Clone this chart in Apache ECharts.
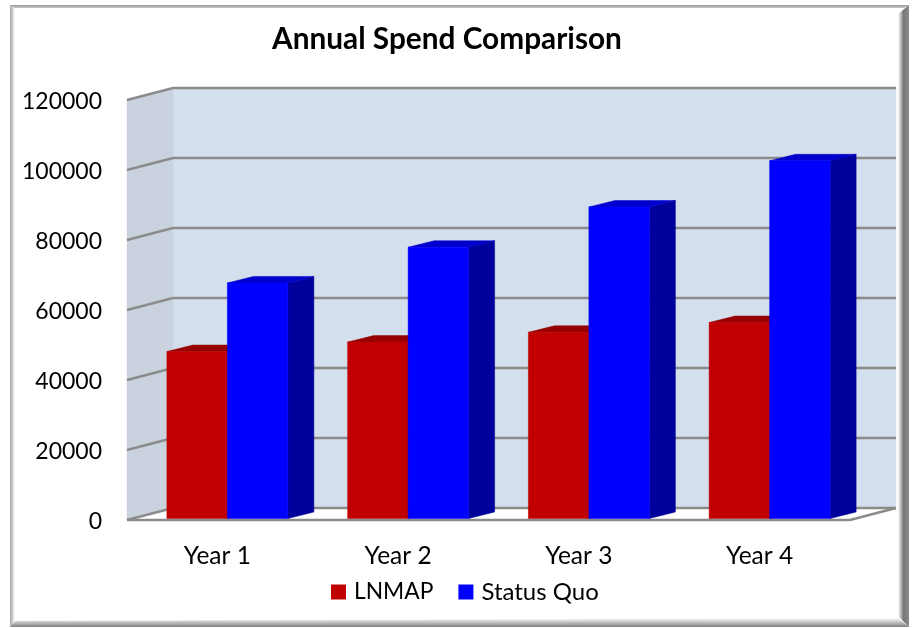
<!DOCTYPE html>
<html><head><meta charset="utf-8">
<style>html,body{margin:0;padding:0;background:#fff}#c{width:912px;height:628px}</style>
<script src="https://cdn.jsdelivr.net/npm/echarts@6/dist/echarts.min.js"></script>
</head><body><div id="c"></div>
<script>
const categories = ['Year 1', 'Year 2', 'Year 3', 'Year 4'];
const lnmap = [47700, 50400, 53200, 56000];
const statusQuo = [67300, 77500, 89000, 102200];
const tickValues = [0, 20000, 40000, 60000, 80000, 100000, 120000];

const FONT = 'Lato';
const WALL = [46, -12];
const BAR_FRONT = [10, -1.5];
const BAR_DEPTH = [26, -6.5];
const BAR_RATIO = 60.5 / 180.75;
const LINE = { stroke: '#8b8b8b', lineWidth: 2.5, fill: null };

function poly(pts, fill, extra) {
  return { type: 'polygon', shape: { points: pts }, style: Object.assign({ fill: fill, stroke: fill, lineWidth: 0.5 }, extra || {}) };
}
function barItem(offset, front, top, side) {
  return function (params, api) {
    const p = api.coord([api.value(0), api.value(1)]);
    const base = api.coord([api.value(0), 0]);
    const w = api.size([1, 0])[0] * BAR_RATIO;
    const x0 = p[0] + BAR_FRONT[0] + offset * w, x1 = x0 + w;
    const yT = p[1] + BAR_FRONT[1], yB = base[1] + BAR_FRONT[1];
    const dx = BAR_DEPTH[0], dy = BAR_DEPTH[1];
    return { type: 'group', children: [
      poly([[x1, yB], [x1 + dx, yB + dy], [x1 + dx, yT + dy], [x1, yT]], side),
      poly([[x0, yT], [x0 + dx, yT + dy], [x1 + dx, yT + dy], [x1, yT]], top),
      poly([[x0, yT], [x1, yT], [x1, yB], [x0, yB]], front)
    ] };
  };
}
function wallsItem(params, api) {
  const c = params.coordSys, dx = WALL[0], dy = WALL[1];
  const L = c.x, R = c.x + c.width, T = c.y, B = c.y + c.height;
  return { type: 'group', children: [
    poly([[L + dx, T + dy], [R + dx, T + dy], [R + dx, B + dy], [L + dx, B + dy]], '#D3DFED'),
    poly([[L, T], [L + dx, T + dy], [L + dx, B + dy], [L, B]], '#C9D2DE'),
    poly([[L, B], [L + dx, B + dy], [R + dx, B + dy], [R, B]], '#FFFFFF'),
    { type: 'polyline', shape: { points: [[L, B], [R, B], [R + dx, B + dy]] }, style: LINE }
  ] };
}
function gridItem(params, api) {
  const c = params.coordSys, dx = WALL[0], dy = WALL[1];
  const y = api.coord([0, api.value(0)])[1];
  return { type: 'polyline', shape: { points: [[c.x, y], [c.x + dx, y + dy], [c.x + c.width + dx, y + dy]] }, style: LINE };
}
function pairs(vals) { return vals.map((v, i) => [i, v]); }

function edge(pts, x, y, x2, y2, stops) {
  return { type: 'polygon', silent: true, shape: { points: pts },
    style: { fill: { type: 'linear', x: x, y: y, x2: x2, y2: y2, global: false,
      colorStops: stops.map((s, i) => ({ offset: i / (stops.length - 1), color: s })) } } };
}

const chart = echarts.init(document.getElementById('c'), null, { renderer: 'canvas' });
chart.setOption({
  animation: false,
  backgroundColor: '#fff',
  title: { text: 'Annual Spend Comparison', left: 267, top: 19,
    textStyle: { fontFamily: FONT, fontWeight: 'bold', fontSize: 29.8, color: '#000' } },
  legend: { data: [
      { name: 'LNMAP', textStyle: { fontSize: 22.8 } },
      { name: 'Status Quo', textStyle: { fontSize: 24 } }
    ], left: 331, top: 580, padding: 0, icon: 'rect', itemWidth: 15, itemHeight: 15, itemGap: 25,
    textStyle: { fontFamily: FONT, color: '#000', padding: [3, 0, 0, 3] } },
  grid: { left: 127, top: 100, width: 723, height: 420, containLabel: false },
  xAxis: { type: 'category', data: categories, axisLine: { show: false }, axisTick: { show: false },
    axisLabel: { fontFamily: FONT, fontSize: 24.5, color: '#000', margin: 24 } },
  yAxis: { type: 'value', min: 0, max: 120000, interval: 20000, axisLine: { show: false }, axisTick: { show: false },
    splitLine: { show: false },
    axisLabel: { margin: 25, formatter: v => '{n|' + v + '}',
      rich: { n: { fontFamily: FONT, fontSize: 23, color: '#000', padding: [4, 0, 0, 0] } } } },
  graphic: [
    edge([[10, 5], [909, 5], [904, 8], [14, 8]], 0, 0, 0, 1, ['#9a9a9a', '#c8c8c8']),
    edge([[10, 5], [15, 9], [15, 623], [10, 627]], 0, 0, 1, 0, ['#a0a0a0', '#ffffff']),
    edge([[909, 5], [898, 14], [898, 616], [909, 627]], 1, 0, 0, 0, ['#8a8a8a', '#777777', '#ffffff']),
    edge([[10, 627], [909, 627], [898, 618], [16, 621]], 0, 1, 0, 0, ['#7f7f7f', '#c0c0c0', '#ffffff'])
  ],
  series: [
    { type: 'custom', name: 'walls', silent: true, coordinateSystem: 'cartesian2d', data: [[0, 0]], renderItem: wallsItem, z: 1 },
    { type: 'custom', name: 'gridlines', silent: true, coordinateSystem: 'cartesian2d', encode: { y: 0 }, data: tickValues.map(v => [v]), renderItem: gridItem, z: 2 },
    { type: 'custom', name: 'LNMAP', coordinateSystem: 'cartesian2d', encode: { x: 0, y: 1 }, itemStyle: { color: '#C00000' }, data: pairs(lnmap), renderItem: barItem(-1, '#C00000', '#960000', '#8A0000'), z: 3 },
    { type: 'custom', name: 'Status Quo', coordinateSystem: 'cartesian2d', encode: { x: 0, y: 1 }, itemStyle: { color: '#0000FF' }, data: pairs(statusQuo), renderItem: barItem(0, '#0000FF', '#0000CC', '#00009B'), z: 4 }
  ]
});
</script></body></html>
